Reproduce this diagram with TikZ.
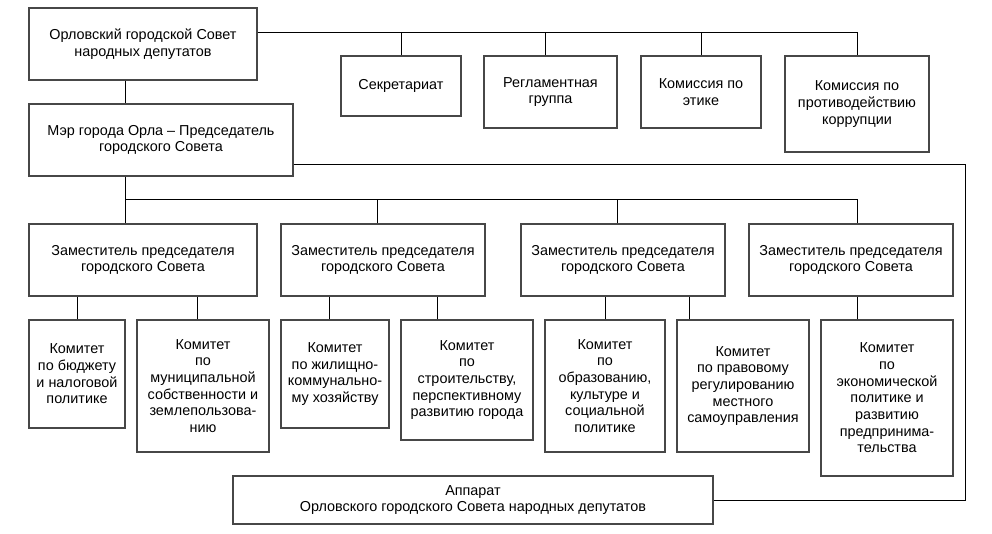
\documentclass[tikz,border=0pt]{standalone}
\usepackage{fontspec}
\setmainfont{Liberation Sans}
\begin{document}
\begin{tikzpicture}[x=1pt,y=-1pt,
  box/.style={draw=black!72,line width=1.1pt,inner sep=0pt,align=center,
    font=\fontsize{14.4}{16.7}\selectfont,text=black},
  link/.style={draw=black,line width=0.9pt}]
\useasboundingbox (0,0) rectangle (992,534);
% boxes: centre (cx,cy), size w x h
\newcommand\mybox[6]{\node[box,minimum width=#4pt,minimum height=#5pt] (#1) at (#2,#3) {#6};}
\mybox{sovet}{143}{44}{228}{72}{Орловский городской Совет\\народных депутатов}
\mybox{sek}{401}{86}{120}{60}{Секретариат}
\mybox{regl}{550.5}{92}{133}{72}{Регламентная\\группа}
\mybox{etika}{701}{92}{120}{72}{Комиссия по\\этике}
\mybox{korr}{857}{104}{144}{96}{Комиссия по\\противодействию\\коррупции}
\mybox{mer}{161}{140}{264}{72}{Мэр города Орла – Председатель\\городского Совета}
\mybox{zam1}{143}{260}{228}{72}{Заместитель председателя\\городского Совета}
\mybox{zam2}{383}{260}{204}{72}{Заместитель председателя\\городского Совета}
\mybox{zam3}{623}{260}{204}{72}{Заместитель председателя\\городского Совета}
\mybox{zam4}{851}{260}{204}{72}{Заместитель председателя\\городского Совета}
\mybox{k1}{77}{374}{96}{108}{Комитет\\по бюджету\\и налоговой\\политике}
\mybox{k2}{203}{386}{132}{132}{Комитет\\по\\муниципальной\\собственности и\\землепользова-\\нию}
\mybox{k3}{335}{374}{108}{108}{Комитет\\по жилищно-\\коммунально-\\му хозяйству}
\mybox{k4}{467}{380}{132}{120}{Комитет\\по\\строительству,\\перспективному\\развитию города}
\mybox{k5}{605}{386}{120}{132}{Комитет\\по\\образованию,\\культуре и\\социальной\\политике}
\mybox{k6}{743}{386}{132}{132}{Комитет\\по правовому\\регулированию\\местного\\самоуправления}
\mybox{k7}{887}{398}{132}{156}{Комитет\\по\\экономической\\политике и\\развитию\\предпринима-\\тельства}
\mybox{app}{473}{500}{480}{48}{Аппарат\\Орловского городского Совета народных депутатов}
% helper coordinates
\coordinate (top) at (0,32);
\coordinate (mid) at (0,200);
\coordinate (v) at (125,0);
\coordinate (r) at (965,164);
% council to commissions
\draw[link] (sovet.east |- top) -| (korr.north);
\draw[link] (sek.north) -- (sek.north |- top);
\draw[link] ([xshift=-5.5pt]regl.north) -- ([xshift=-5.5pt]regl.north |- top);
\draw[link] (etika.north) -- (etika.north |- top);
% council to mayor
\draw[link] (sovet.south -| v) -- (mer.north -| v);
% mayor to apparatus
\draw[link] (mer.east |- r) -- (r) |- (app.east);
% mayor to deputies
\draw[link] (mer.south -| v) -- (zam1.north -| v);
\draw[link] (zam1.north -| v) ++(0,-24) -| ([xshift=6pt]zam4.north);
\draw[link] ([xshift=-6pt]zam2.north) -- ([xshift=-6pt]zam2.north |- mid);
\draw[link] ([xshift=-6pt]zam3.north) -- ([xshift=-6pt]zam3.north |- mid);
% deputies to committees
\draw[link] (k1.north) -- (k1.north |- zam1.south);
\draw[link] ([xshift=-6pt]k2.north) -- ([xshift=-6pt]k2.north |- zam1.south);
\draw[link] ([xshift=-6pt]k3.north) -- ([xshift=-6pt]k3.north |- zam2.south);
\draw[link] ([xshift=-30pt]k4.north) -- ([xshift=-30pt]k4.north |- zam2.south);
\draw[link] (k5.north) -- (k5.north |- zam3.south);
\draw[link] ([xshift=-54pt]k6.north) -- ([xshift=-54pt]k6.north |- zam3.south);
\draw[link] ([xshift=-30pt]k7.north) -- ([xshift=-30pt]k7.north |- zam4.south);
\end{tikzpicture}
\end{document}
